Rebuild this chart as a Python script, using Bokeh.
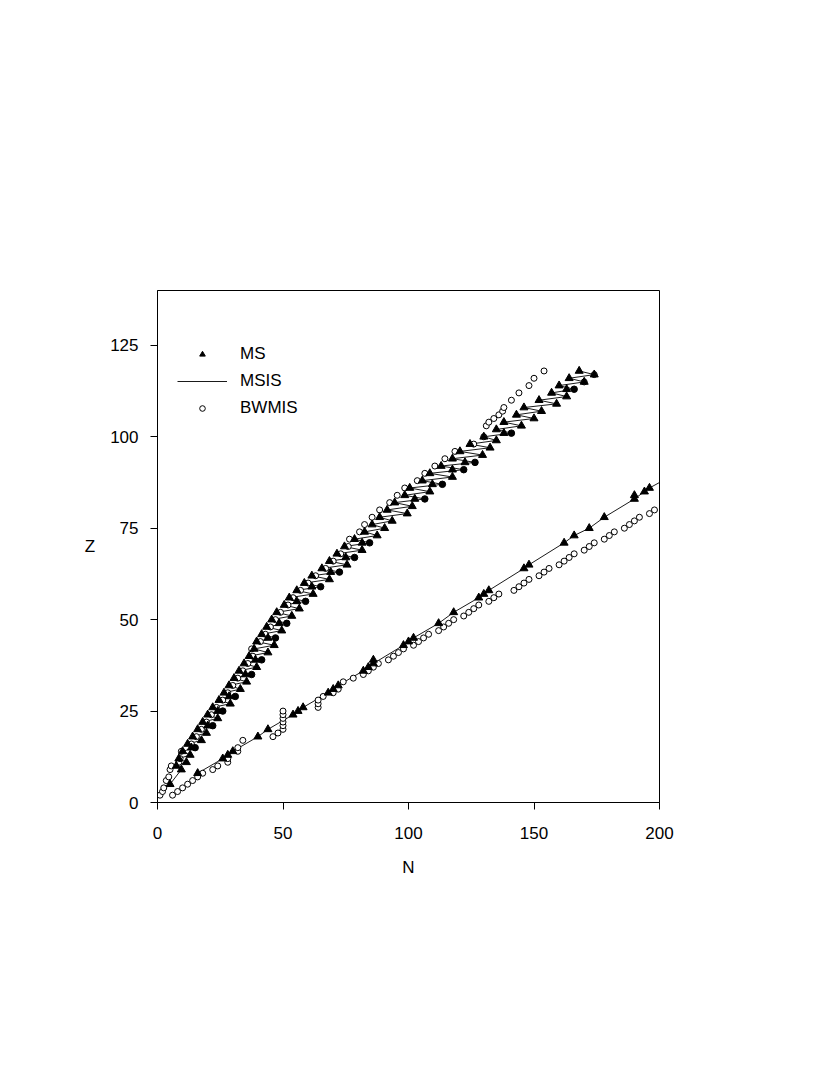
from bokeh.plotting import figure
from bokeh.models import Legend, LegendItem, Label, FixedTicker, Range1d
from bokeh.embed import file_html
from bokeh.resources import INLINE

FONT = "Liberation Sans"

x_ticks = [0, 50, 100, 150, 200]
y_ticks = [0, 25, 50, 75, 100, 125]

# ---- proton-rich branch (upper) ----
msis_up_Z = [5, 9, 10, 11, 12, 13, 14, 15, 16, 17, 18, 19, 20, 21, 22, 23, 24, 25, 26, 27,
             28, 29, 30, 31, 32, 33, 34, 35, 36, 37, 38, 39, 40, 41, 42, 43, 44, 45, 46, 47,
             48, 49, 50, 51, 52, 53, 54, 55, 56, 57, 58, 59, 60, 61, 62, 63, 64, 65, 66, 67,
             68, 69, 70, 71, 72, 73, 74, 75, 76, 77, 78, 79, 80, 81, 82, 83, 84, 85, 86, 87,
             88, 89, 90, 91, 92, 93, 94, 95, 96, 97, 98, 99, 100, 101, 102, 103, 104, 105, 106, 107,
             108, 109, 110, 111, 112, 113, 114, 115, 116, 117, 118]
msis_up_N = [5, 9.5, 7.5, 11.5, 8.5, 13, 10, 15, 12, 17.5, 14, 19.5, 16, 22, 18, 24, 20, 26, 22, 29,
             24.5, 31, 26.5, 33, 28.5, 35.5, 30.5, 37.5, 32.5, 39.5, 34.5, 41.5, 36.5, 44, 38.5, 46.5,
             39.5, 47, 41.5, 49.5, 43.5, 51.5, 45.5, 53.5, 47.5, 56.5, 50.5, 59, 52.5, 62, 55.5, 65,
             58.5, 68.5, 61.5, 72.5, 65.5, 75.5, 68.5, 78.5, 71.5, 81.5, 74.5, 84.5, 78.5, 87.5,
             82.5, 90.5, 85.5, 93.5, 88.5, 99.5, 91.5, 101.5, 94.5, 106.5, 98.5, 108.5, 100.5, 113.5,
             105.5, 117.5, 108.5, 122, 113, 126.5, 117.5, 129.5, 120.5, 132.5, 124.5, 135, 130,
             141, 135, 145, 138, 150, 143, 153, 146, 159, 152, 163, 157, 166, 160, 170, 164, 174, 168]

ms_up_Z = list(msis_up_Z)
ms_up_N = [5, 9.5, 7.5, 11.5, 8.5, 13, 10, 13.5, 12, 17.5, 14, 19.5, 16, 20, 18, 24, 20, 24, 22, 29,
           24.5, 28.5, 26.5, 33, 28.5, 35.5, 30.5, 35, 32.5, 39.5, 34.5, 39, 36.5, 44, 38.5, 46.5,
           39.5, 44, 41.5, 49.5, 43.5, 48.5, 45.5, 53.5, 47.5, 56.5, 50.5, 55.5, 52.5, 62, 55.5, 61.5,
           58.5, 68.5, 61.5, 69, 65.5, 75.5, 68.5, 75, 71.5, 81.5, 74.5, 81.5, 78.5, 87.5,
           82.5, 90.5, 85.5, 93.5, 88.5, 99.5, 91.5, 101.5, 94.5, 102.5, 98.5, 108.5, 100.5, 109.5,
           105.5, 117.5, 108.5, 117.5, 113, 122.5, 117.5, 129.5, 120.5, 132.5, 124.5, 135, 130,
           138, 135, 145, 138, 150, 143, 153, 146, 159, 152, 163, 157, 163, 160, 170, 164, 174, 168]

bw_up_N = [1, 2, 2.5, 3.5, 4.5, 5, 5.5, 8.5, 9, 9.5,
           13.5, 15.5, 17.5, 19.5, 21.5, 23.5, 26, 28, 30, 32, 34, 36, 38, 37.5,
           41, 43, 45, 47, 49, 52, 54, 57, 60, 63, 67, 70, 73, 76,
           76.5, 80.5, 82.5, 85.5, 88.5, 92.5, 95.5, 98.5, 103.5, 106.5, 110.5, 114.5, 118.5, 126, 130,
           131, 132, 134, 136, 137.5, 138, 141, 144, 148, 150, 154, 170, 174]
bw_up_Z = [2, 3, 4, 6, 7, 9, 10, 11, 12, 14,
           16, 18, 20, 22, 24, 26, 28, 30, 32, 34, 36, 38, 40, 42,
           44, 46, 48, 50, 52, 54, 56, 58, 60, 62, 64, 66, 68, 70,
           72, 74, 76, 78, 80, 82, 84, 86, 88, 90, 92, 94, 96, 98, 100,
           103, 104, 105, 106, 107, 108, 110, 112, 114, 116, 118, 115, 117]

# ---- neutron-rich branch (lower) ----
ms_lo_N = [16, 26, 28, 30, 40, 44, 54, 56, 58, 68, 70, 72, 82, 84, 86, 86, 98, 100, 102, 112,
           118, 128, 130, 132, 146, 148, 162, 166, 172, 178, 190, 190, 194, 196]
ms_lo_Z = [8, 12, 13, 14, 18, 20, 24, 25, 26, 30, 31, 32, 36, 37, 38, 39, 43, 44, 45, 49,
           52, 56, 57, 58, 64, 65, 71, 73, 75, 78, 83, 84, 85, 86]

msis_lo_N = [16, 26, 30, 40, 44, 54, 58, 68, 72, 82, 86, 98, 102, 112, 118, 128, 132, 146, 148,
             162, 166, 172, 178, 190, 196, 200]
msis_lo_Z = [8, 12, 14, 18, 20, 24, 26, 30, 32, 36, 38, 43, 45, 49, 52, 56, 58, 64, 65,
             71, 73, 75, 78, 83, 86, 87.5]

bw_lo_N = [6, 8, 10, 12, 14, 16, 18, 22, 24, 28, 28, 32, 32, 34, 46, 48, 50, 50, 50, 50, 50, 50,
           64, 64, 64, 66, 70, 72, 74, 78, 82, 84, 86, 88, 92, 94, 96, 98, 102, 104, 106, 108,
           112, 114, 116, 118, 122, 124, 126, 128, 132, 134, 136, 142, 144, 146, 148, 152, 154, 156,
           160, 162, 164, 166, 170, 172, 174, 178, 180, 182, 186, 188, 190, 192, 196, 198]
bw_lo_Z = [2, 3, 4, 5, 6, 7, 8, 9, 10, 11, 12, 14, 15, 17, 18, 19, 20, 21, 22, 23, 24, 25,
           26, 27, 28, 29, 30, 31, 33, 34, 35, 36, 37, 38, 39, 40, 41, 42, 43, 44, 45, 46,
           47, 48, 49, 50, 51, 52, 53, 54, 55, 56, 57, 58, 59, 60, 61, 62, 63, 64,
           65, 66, 67, 68, 69, 70, 71, 72, 73, 74, 75, 76, 77, 78, 79, 80]

# MSIS points that do not coincide with MS ones are marked with filled dots
ms_set = set(zip(ms_up_N, ms_up_Z))
dot_pairs = [(n, z) for n, z in zip(msis_up_N, msis_up_Z) if (n, z) not in ms_set]
dot_N = [d[0] for d in dot_pairs]
dot_Z = [d[1] for d in dot_pairs]

p = figure(width=801, height=1070, output_backend="svg", toolbar_location=None,
           x_range=Range1d(0, 200), y_range=Range1d(0, 140),
           min_border_left=157, min_border_right=142, min_border_top=290, min_border_bottom=268)
p.xgrid.visible = False
p.ygrid.visible = False
p.outline_line_color = "black"
p.outline_line_width = 1
p.background_fill_color = "white"

for ax, ticks in ((p.xaxis, x_ticks), (p.yaxis, y_ticks)):
    ax.ticker = FixedTicker(ticks=ticks)
    ax.minor_tick_line_color = None
    ax.major_tick_in = 0
    ax.major_tick_out = 7
    ax.axis_line_color = "black"
    ax.major_tick_line_color = "black"
    ax.major_label_text_font = FONT
    ax.major_label_text_font_size = "17px"
    ax.major_label_text_color = "black"
    ax.axis_label_text_font = FONT
    ax.axis_label_text_font_size = "17px"
    ax.axis_label_text_font_style = "normal"
    ax.axis_label_text_color = "black"

p.xaxis.major_label_standoff = 17
p.yaxis.major_label_standoff = 12
p.xaxis.axis_label = "N"
p.xaxis.axis_label_standoff = 16

try:
    p.yaxis.axis_label_orientation = "horizontal"
    p.yaxis.axis_label = "Z"
    p.yaxis.axis_label_standoff = 12
except Exception:
    p.add_layout(Label(x=-26, y=73, text="Z", text_align="center", text_baseline="middle",
                       text_font=FONT, text_font_size="17px", text_color="black"))

# lines
r_msis_up = p.line(msis_up_N, msis_up_Z, line_color="black", line_width=0.9)
p.line(msis_lo_N, msis_lo_Z, line_color="black", line_width=0.9)

# BWMIS open circles
r_bw_up = p.scatter(bw_up_N, bw_up_Z, marker="circle", size=6, fill_color="white",
                    line_color="black", line_width=1)
p.scatter(bw_lo_N, bw_lo_Z, marker="circle", size=6, fill_color="white",
          line_color="black", line_width=1)

# MSIS dots
p.scatter(dot_N, dot_Z, marker="circle", size=6.5, fill_color="black", line_color="black")

# MS triangles
r_ms_up = p.scatter(ms_up_N, ms_up_Z, marker="triangle", size=8, fill_color="black",
                    line_color="black")
p.scatter(ms_lo_N, ms_lo_Z, marker="triangle", size=8, fill_color="black", line_color="black")

legend = Legend(items=[LegendItem(label="MS", renderers=[r_ms_up]),
                       LegendItem(label="MSIS", renderers=[r_msis_up]),
                       LegendItem(label="BWMIS", renderers=[r_bw_up])],
                location=(20, 384), border_line_color=None, background_fill_alpha=0,
                glyph_width=50, glyph_height=14, label_height=20, spacing=7, padding=5,
                margin=0, label_standoff=13, label_text_font=FONT,
                label_text_font_size="17px", label_text_color="black")
p.add_layout(legend)

open("out.html", "w").write(file_html(p, INLINE))
